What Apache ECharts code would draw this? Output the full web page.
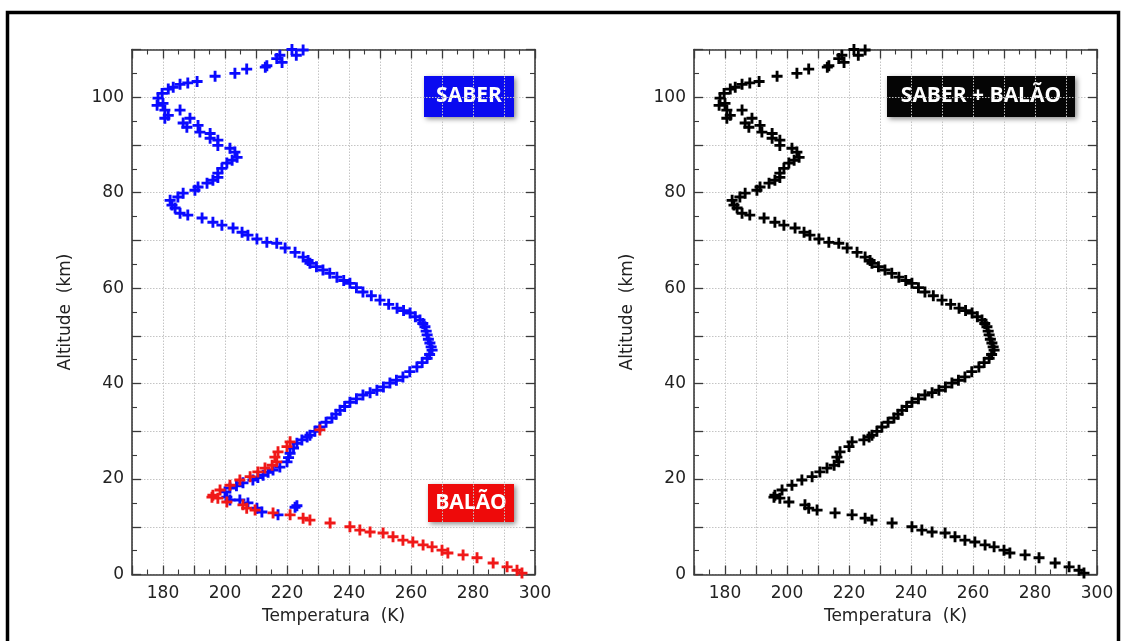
<!DOCTYPE html>
<html>
<head>
<meta charset="utf-8">
<script src="https://cdn.jsdelivr.net/npm/echarts@6/dist/echarts.min.js"></script>
<style>
html,body{margin:0;padding:0;background:#fff;}
#chart{width:1125px;height:641px;}
</style>
</head>
<body>
<div id="chart"></div>
<script>
// ---- DATA (temperature K, altitude km) ----
const saberPoints = [
  [225.2,109.9],[221.6,110],[223,108.8],[217.7,108.8],[216.7,108.1],[218.4,107.3],[213.5,106.6],[213,106.3],
  [207,105.9],[203.2,105],[196.8,104.4],[191,103.3],[188,103],[185.5,102.7],[183.3,102.1],[181.7,101.7],
  [179.7,100.8],[178.4,99.8],[178.1,98.3],[180,98.7],[180.6,97.3],[181.7,96.2],[180.6,95.6],[185.5,97.3],
  [188.7,95.6],[186.5,94.6],[187.7,93.7],[191.3,94.1],[191.9,92.7],[195.2,92.4],[195.2,91.4],[197.7,91],
  [197.7,89.9],[201.6,89.3],[203.2,88.5],[203.9,87.4],[202.3,86.8],[200.6,86.2],[199,85.1],[197.7,84.1],
  [197.7,83.2],[196.1,82.6],[194.2,82],[191.3,81.2],[190.3,80.5],[186.5,79.9],[184.8,79.1],[182.3,78.4],
  [182.9,77.4],[183.9,76.8],[185.5,75.7],[188,75.3],[192.6,74.7],[196.1,73.8],[199,73.2],[202.6,72.6],
  [205.5,71.7],[207.4,71.1],[210.3,70.3],[213.5,69.6],[216.7,69.4],[219.4,68.4],[222.6,67.5],[225.2,66.5],
  [226.8,65.8],[227.4,65.2],[229.5,64.5],[231.6,63.8],[233.8,63.1],[236.1,62.3],[238.3,61.6],[240.3,61.0],
  [242.4,60.1],[244.5,59.2],[247.2,58.4],[250,57.5],[252.8,56.6],[255.5,55.8],[257.6,55.3],[259.7,54.8],
  [261.4,54.0],[262.9,53.3],[263.8,52.6],[264.5,51.9],[264.9,51.0],[265.2,50.2],[265.6,49.3],[266.1,48.5],
  [266.5,47.7],[266.8,47.0],[266.0,46.1],[265.2,45.3],[263.6,44.4],[261.9,43.5],[259.6,42.5],[257.4,41.4],
  [255.3,40.7],[253.2,40.1],[251.1,39.3],[249,38.6],[246.8,38.1],[244.5,37.6],[242.4,36.8],[240.3,36.1],
  [238.6,35.2],[237.1,34.4],[235.8,33.6],[234.5,32.8],[232.6,31.9],[230.6,30.9],[229,30.0],[227.4,29.2],
  [226.5,28.8],[224.8,28.2],[223.2,27.5],[222.1,26.5],[221,25.4],[220.5,24.5],[220,23.6],[217.7,22.5],
  [215.5,21.9],[213.9,21.4],[212.3,20.8],[210.6,20.3],[209,19.8],[205.8,19.2],[203.7,18.6],[201.6,18.1],
  [200,17.3],[200.6,16.2],[201.6,15.6],[204.8,15.6],[207.4,15.0],[210.3,13.9],[211.9,13.1],[217.1,12.5],
  [222.6,14.1],[223.2,14.4]
];
const balloonPoints = [
  [230.6,30.3],[221,27.8],[220,26.8],[217.1,25.7],[216.1,24.6],[216.7,23.6],[215.2,22.9],[212.9,22.3],
  [210.6,21.5],[208.1,20.5],[204.8,19.8],[201.6,18.7],[198.4,17.7],[196.1,16.6],[195.8,16.2],[197.7,16.0],
  [200.6,15.2],[205.8,14.6],[207,13.9],[209.7,13.5],[215.5,12.9],[221,12.5],[225.2,11.8],[227.4,11.4],
  [233.9,10.8],[240.3,10.0],[243.5,9.3],[246.8,8.9],[251,8.7],[254.2,7.9],[257.4,7.2],[260.6,6.8],
  [263.9,6.2],[266.8,5.8],[270,5.1],[271.9,4.5],[276.8,4.1],[281.3,3.5],[286.5,2.4],[291,1.6],
  [294.2,0.9],[295.8,0.3]
];
// combined profile: balloon below ~28 km, SABER above
const combinedPoints = balloonPoints.filter(p => p[1] <= 28)
  .concat(saberPoints.filter(p => p[1] > 28));

const xTickLabels = [180, 200, 220, 240, 260, 280, 300];
const yTickLabels = [0, 20, 40, 60, 80, 100];
const xName = 'Temperatura  (K)';
const yName = 'Altitude  (km)';
const boxTexts = ['SABER', 'BALÃO', 'SABER + BALÃO'];

// ---- CHART ----
const FONT = 'DejaVu Sans';
const AX = '#3a3a3a';
const plus = 'path://M3.7,0H6.3V3.7H10V6.3H6.3V10H3.7V6.3H0V3.7H3.7Z';
const grids = [
  {left: 132, top: 49.5, width: 403, height: 525},
  {left: 694, top: 49.5, width: 403, height: 525}
];

function xAxes(gi) {
  const common = {
    type: 'value', gridIndex: gi, min: 170, max: 300, interval: 10,
    axisLine: {show: true, onZero: false, lineStyle: {color: AX, width: 1.6}},
    axisTick: {show: true, inside: true, length: 9, lineStyle: {color: AX, width: 1.3}},
    minorTick: {show: true, splitNumber: 2, length: 5, lineStyle: {color: AX, width: 1.1}}
  };
  return [
    Object.assign({}, common, {
      position: 'bottom',
      axisLabel: {show: true, customValues: xTickLabels, margin: 11, fontFamily: FONT, fontSize: 17, color: '#222'},
      splitLine: {show: true, lineStyle: {type: [1.5, 1.5], color: '#c4c4c4', width: 1}},
      name: xName, nameLocation: 'middle', nameGap: 34,
      nameTextStyle: {fontFamily: FONT, fontSize: 17, color: '#222'}
    }),
    Object.assign({}, common, {
      position: 'top', axisLabel: {show: false}, splitLine: {show: false}
    })
  ];
}
function yAxes(gi) {
  const common = {
    type: 'value', gridIndex: gi, min: 0, max: 110, interval: 10,
    axisLine: {show: true, onZero: false, lineStyle: {color: AX, width: 1.6}},
    axisTick: {show: true, inside: true, length: 9, lineStyle: {color: AX, width: 1.3}},
    minorTick: {show: true, splitNumber: 2, length: 5, lineStyle: {color: AX, width: 1.1}}
  };
  return [
    Object.assign({}, common, {
      position: 'left',
      axisLabel: {show: true, customValues: yTickLabels, margin: 8, fontFamily: FONT, fontSize: 17, color: '#222'},
      splitLine: {show: true, lineStyle: {type: [1.5, 1.5], color: '#c4c4c4', width: 1}},
      name: yName, nameLocation: 'middle', nameGap: 58, nameRotate: 90,
      nameTextStyle: {fontFamily: FONT, fontSize: 17, color: '#222'}
    }),
    Object.assign({}, common, {
      position: 'right', axisLabel: {show: false}, splitLine: {show: false}
    })
  ];
}

function scatter(data, color, xi, yi) {
  return {
    type: 'scatter', data: data, xAxisIndex: xi, yAxisIndex: yi,
    symbol: plus, symbolSize: 11, silent: true, animation: false,
    itemStyle: {color: color, opacity: 1}
  };
}

function labelBox(x, y, w, h, text, fill) {
  return {
    type: 'group', x: x, y: y, z: 100,
    children: [
      {type: 'rect', shape: {x: 0, y: 0, width: w, height: h},
       style: {fill: fill, shadowBlur: 5, shadowOffsetX: 2, shadowOffsetY: 2, shadowColor: 'rgba(0,0,0,0.45)'}},
      {type: 'text', x: w / 2, y: h / 2,
       style: {text: text, fill: '#fff', font: 'bold 21px "Open Sans"', align: 'center', verticalAlign: 'middle'}}
    ]
  };
}

const chart = echarts.init(document.getElementById('chart'), null, {renderer: 'canvas'});
chart.setOption({
  backgroundColor: '#fff',
  animation: false,
  grid: grids,
  xAxis: xAxes(0).concat(xAxes(1)),
  yAxis: yAxes(0).concat(yAxes(1)),
  series: [
    scatter(saberPoints, '#0a0aff', 0, 0),
    scatter(balloonPoints, '#f01818', 0, 0),
    scatter(combinedPoints, '#000000', 2, 2)
  ],
  graphic: [
    {type: 'rect', shape: {x: 7.5, y: 12.5, width: 1111, height: 660},
     style: {fill: 'none', stroke: '#000', lineWidth: 3.5}, z: 100},
    labelBox(424, 76, 90, 41, boxTexts[0], '#0a0af0'),
    labelBox(428, 484, 86, 38, boxTexts[1], '#ee0a0a'),
    labelBox(887, 76, 188, 41, boxTexts[2], '#050505')
  ]
});
</script>
</body>
</html>
